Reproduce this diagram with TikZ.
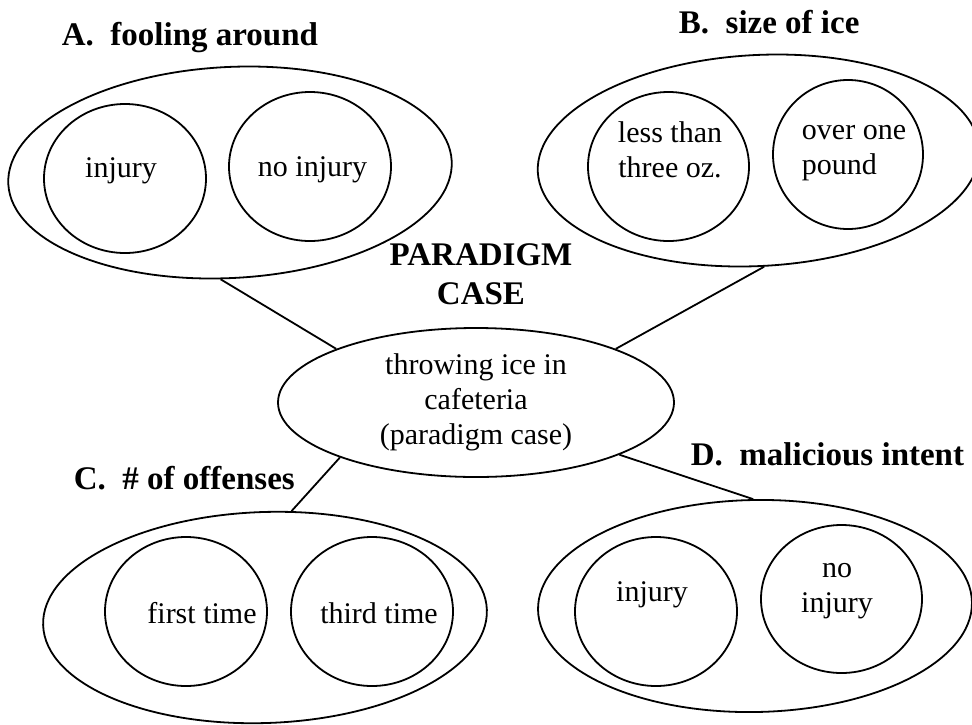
\documentclass[tikz,border=0pt]{standalone}
\usepackage{fontspec}
\setmainfont{Liberation Serif}
\usetikzlibrary{shapes.geometric}
\usetikzlibrary{positioning}

\begin{document}
\begin{tikzpicture}
	[x=1pt,y=-1pt,line width=1.8pt,
	every node/.style={inner sep=0pt,font=\fontsize{30}{35}\selectfont},
	group/.style={ellipse,draw},
	ring/.style={ellipse,draw,minimum width=162pt,minimum height=149pt},
	head/.style={anchor=base west,font=\fontsize{33}{39}\selectfont\bfseries}]
	\useasboundingbox (0,0) rectangle (972,724);

	% the four groups
	\node[group,minimum width=444pt,minimum height=211pt,rotate=3] (fa) at (230,172.5) {};
	\node[group,minimum width=442pt,minimum height=211pt,rotate=3] (fb) at (758.5,160.5) {};
	\node[group,minimum width=444pt,minimum height=211pt,rotate=2] (fc) at (265,617.5) {};
	\node[group,minimum width=434pt,minimum height=212pt,rotate=1] (fd) at (755,606) {};

	\node[ring] (a1) at (125,178.5) {};
	\node[ring] (a2) at (310,166.5) {};
	\node[ring,minimum width=161pt] (b1) at (668.5,166.5) {};
	\node[ring,minimum width=150pt] (b2) at (848,154.5) {};
	\node[ring] (c1) at (186,611.5) {};
	\node[ring] (c2) at (372,611.5) {};
	\node[ring] (d1) at (656,611.5) {};
	\node[ring,minimum width=161pt,minimum height=148pt] (d2) at (841.5,599) {};

	\node (a1t) at (121,171) {injury};
	\node (a2t) at (312.5,170) {no injury};
	\node[align=center] (b1t) at (670,150) {less than\\three oz.};
	\node[align=left] (b2t) at (854,153.5) {over one\\pound};
	\node (c1t) at (202,613) {first time};
	\node (c2t) at (379,613) {third time};
	\node (d1t) at (652,595) {injury};
	\node[align=center] (d2t) at (837,591) {no\\injury};

	% paradigm case
	\node[ellipse,draw,minimum width=396pt,minimum height=149pt,align=center] (case) at (476,402.5)
		{throwing ice in\\cafeteria\\(paradigm case)};
	\node[font=\fontsize{33}{39}\selectfont\bfseries,align=center] (pc) at (481,274.5) {PARADIGM\\CASE};

	\node[head] (ha) at (61,45) {A.\ \ fooling around};
	\node[head] (hb) at (678,33) {B.\ \ size of ice};
	\node[head] (hc) at (73,489) {C.\ \ \# of offenses};
	\node[head] (hd) at (690,465) {D.\ \ malicious intent};

	\foreach \from/\to in
	{case.159/fa.262, case.21/fb.south, case.202/fc.74, case.340/fd.north}
	\draw (\from) -- (\to);
\end{tikzpicture}
\end{document}
